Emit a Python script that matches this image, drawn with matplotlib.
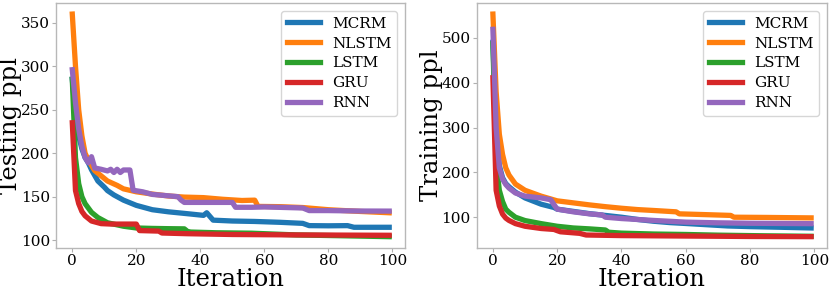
import matplotlib
matplotlib.use("Agg")
import matplotlib.pyplot as plt

plt.rcParams['font.family'] = ['DejaVu Serif']

names = ['MCRM', 'NLSTM', 'LSTM', 'GRU', 'RNN']
colors = ['#1f77b4', '#ff7f0e', '#2ca02c', '#d62728', '#9467bd']

# testing perplexity (left panel)
test_mcrm_x = [0, 1, 2, 3, 4, 5, 6, 8, 10, 11, 13, 16, 20, 25, 30, 36, 41, 42, 44, 50, 57, 65, 72, 74, 80, 86, 88, 99]
test_mcrm_y = [285, 245, 220, 205, 195, 189, 181, 168, 161, 157, 152, 146, 140, 135, 132.6, 130.4, 128.5, 131.5, 123, 122, 121.5, 120.5, 119.3, 116.7, 116.5, 116.7, 114.8, 114.8]

test_nlstm_x = [0, 1, 2, 3, 4, 5, 7, 9, 11, 14, 16, 20, 25, 30, 35, 41, 47, 53, 57, 58, 65, 72, 80, 90, 99]
test_nlstm_y = [360, 300, 250, 220, 200, 192, 180, 174, 168, 163, 159, 155.6, 153, 150.8, 149.5, 148.9, 147, 145.6, 146, 138.8, 138.5, 137.5, 135, 133, 131.5]

test_lstm_x = [0, 1, 2, 3, 4, 6, 8, 11, 16, 20, 25, 30, 35, 36, 37, 45, 56, 70, 85, 99]
test_lstm_y = [285, 195, 165, 150, 142, 132, 126, 120, 116, 114, 113.5, 113.2, 113, 110, 109.3, 108.5, 108, 106, 105, 104]

test_gru_x = [0, 1, 2, 3, 4, 6, 9, 12, 16, 20, 21, 27, 28, 36, 50, 70, 99]
test_gru_y = [235, 157, 142, 133, 128, 122, 119, 118.5, 118.5, 118.5, 111, 110.4, 108.2, 107.4, 106.5, 106, 105.6]

test_rnn_x = [0, 1, 2, 3, 4, 5, 6, 7, 9, 11, 12, 13, 14, 15, 16, 18, 19, 22, 25, 30, 33, 34, 35, 40, 50, 51, 56, 60, 72, 74, 80, 90, 99]
test_rnn_y = [296, 258, 228, 208, 195, 189, 196, 183, 181.5, 179.6, 181.5, 177.8, 181.5, 177.8, 180.7, 180.7, 157.4, 155.6, 152.6, 151, 150, 146, 143.4, 143.4, 143.4, 137.8, 137.8, 138.2, 137, 134, 134, 133.5, 133.4]

# training perplexity (right panel)
train_mcrm_x = [0, 1, 2, 3, 4, 5, 7, 10, 15, 19, 20, 25, 30, 35, 40, 45, 50, 55, 60, 73, 80, 90, 99]
train_mcrm_y = [490, 290, 215, 188, 175, 168, 156, 143, 129, 121.7, 118, 113, 108, 104, 100, 95, 91, 88, 86, 80.5, 79, 77.5, 76]

train_nlstm_x = [0, 1, 2, 3, 4, 5, 7, 10, 15, 20, 25, 30, 35, 40, 45, 50, 57, 58, 65, 74, 75, 85, 99]
train_nlstm_y = [553, 380, 285, 240, 210, 194, 174, 160, 147, 136.5, 132, 127.5, 123.5, 120, 117, 115, 112, 107.5, 106, 104, 100, 99.5, 98.5]

train_lstm_x = [0, 1, 2, 3, 4, 5, 7, 10, 15, 20, 25, 30, 35, 36, 40, 50, 60, 70, 85, 99]
train_lstm_y = [487, 220, 160, 135, 118, 111, 100, 92.5, 85.7, 79.8, 76, 74, 71.5, 66.5, 64.5, 62.5, 61.5, 60, 58.5, 57.5]

train_gru_x = [0, 1, 2, 3, 4, 5, 7, 10, 15, 19, 20, 21, 27, 29, 40, 60, 80, 99]
train_gru_y = [411, 160, 125, 107, 98, 92.8, 85.7, 79.8, 74.8, 72.7, 70, 67.5, 64, 60.3, 59, 58, 57, 56.6]

train_rnn_x = [0, 1, 2, 3, 4, 5, 7, 10, 15, 18, 19, 20, 25, 30, 34, 35, 40, 50, 60, 70, 80, 90, 99]
train_rnn_y = [519, 300, 210, 185, 173, 165, 154, 147, 143, 139, 128, 118, 112, 107.5, 105, 100, 97, 92.8, 89, 87.5, 86.5, 86, 85.6]

test_series = [(test_mcrm_x, test_mcrm_y), (test_nlstm_x, test_nlstm_y), (test_lstm_x, test_lstm_y),
               (test_gru_x, test_gru_y), (test_rnn_x, test_rnn_y)]
train_series = [(train_mcrm_x, train_mcrm_y), (train_nlstm_x, train_nlstm_y), (train_lstm_x, train_lstm_y),
                (train_gru_x, train_gru_y), (train_rnn_x, train_rnn_y)]

fig = plt.figure(figsize=(8.3, 2.95), dpi=100)
ax1 = fig.add_axes([0.068, 0.16, 0.420, 0.83])
ax2 = fig.add_axes([0.5747, 0.16, 0.4217, 0.83])

for ax, series, ylabel in [(ax1, test_series, 'Testing ppl'), (ax2, train_series, 'Training ppl')]:
    for (xs, ys), name, c in zip(series, names, colors):
        ax.plot(xs, ys, color=c, lw=3.8, label=name)
    ax.set_xlabel('Iteration', fontsize=17.5, labelpad=0)
    ax.set_ylabel(ylabel, fontsize=17.5, labelpad=-1)
    ax.set_xticks([0, 20, 40, 60, 80, 100])
    ax.tick_params(labelsize=11, color='#b0b0b0', length=3, width=0.8, pad=1.5)
    for s in ax.spines.values():
        s.set_color('#b8b8b8')
        s.set_linewidth(1.0)
    ax.legend(loc='upper right', fontsize=11, handlelength=2.1, labelspacing=0.38,
              edgecolor='#cccccc')

ax1.set_yticks([100, 150, 200, 250, 300, 350])
ax2.set_yticks([100, 200, 300, 400, 500])

fig.savefig('out.png', dpi=100)
